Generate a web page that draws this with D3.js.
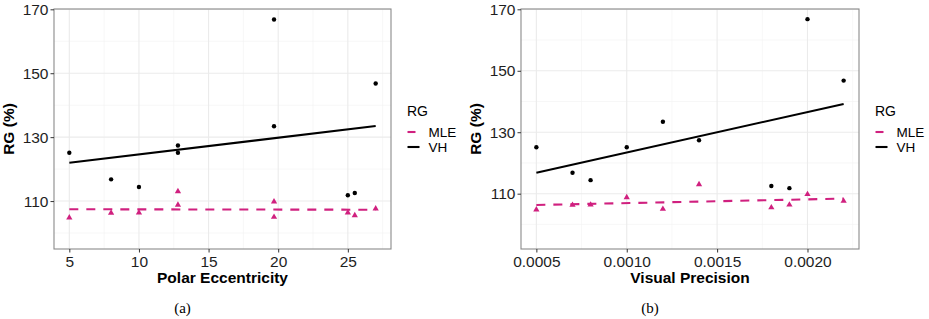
<!DOCTYPE html>
<html>
<head>
<meta charset="utf-8">
<script src="https://cdn.jsdelivr.net/npm/d3@7"></script>
<style>
  body { margin: 0; background: #fff; }
  svg text { font-family: "Liberation Sans", Arial, sans-serif; }
</style>
</head>
<body>
<div id="chart-area"></div>
<script>
// ten subjects, same order in every array
const polarEcc = [5, 8, 10, 12.8, 12.8, 19.7, 19.7, 25, 25.5, 27];
const visualPrec = [0.0005, 0.0007, 0.0008, 0.0014, 0.0010, 0.0020, 0.0012, 0.0019, 0.0018, 0.0022];
const vhRG = [125.1, 116.8, 114.4, 127.4, 125.1, 166.8, 133.4, 111.8, 112.5, 146.8];
const mleRG = [104.8, 106.3, 106.4, 113.0, 108.8, 109.8, 105.0, 106.4, 105.5, 107.6];

const yTicks = [110, 130, 150, 170];
const yMinor = [100, 120, 140, 160];
const peTicks = [5, 10, 15, 20, 25];
const peMinor = [7.5, 12.5, 17.5, 22.5, 27.5];
const vpTicks = [0.0005, 0.0010, 0.0015, 0.0020];
const vpMinor = [0.00075, 0.00125, 0.00175, 0.00225];
const seriesNames = ["MLE", "VH"];

const colors = { MLE: "#d0207f", VH: "#000000" };

const svg = d3.select("#chart-area")
    .append("svg")
    .attr("width", 929)
    .attr("height", 319);

function linFit(xs, ys) {
    const mx = d3.mean(xs), my = d3.mean(ys);
    const sxy = d3.sum(xs, (x, i) => (x - mx) * (ys[i] - my));
    const sxx = d3.sum(xs, x => (x - mx) * (x - mx));
    const b = sxy / sxx;
    return x => my + b * (x - mx);
}

function drawPanel(p) {
    const w = p.right - p.left, h = p.bottom - p.top;
    const g = svg.append("g").attr("transform", `translate(${p.left},${p.top})`);

    const [x0, x1] = d3.extent(p.xs);
    const pad = (x1 - x0) * 0.05;
    const x = d3.scaleLinear().domain([x0 - pad, x1 + pad]).range([0, w]);
    const y = d3.scaleLinear().domain(p.yDomain).range([h, 0]);

    // grid
    g.selectAll(".ymin").data(yMinor).enter().append("line")
        .attr("x1", 0).attr("x2", w)
        .attr("y1", d => y(d)).attr("y2", d => y(d))
        .attr("stroke", "#f2f2f2").attr("stroke-width", 0.6);
    g.selectAll(".xmin").data(p.xMinor).enter().append("line")
        .attr("y1", 0).attr("y2", h)
        .attr("x1", d => x(d)).attr("x2", d => x(d))
        .attr("stroke", "#f2f2f2").attr("stroke-width", 0.6);
    g.selectAll(".ymaj").data(yTicks).enter().append("line")
        .attr("x1", 0).attr("x2", w)
        .attr("y1", d => y(d)).attr("y2", d => y(d))
        .attr("stroke", "#ebebeb").attr("stroke-width", 1.1);
    g.selectAll(".xmaj").data(p.xTicks).enter().append("line")
        .attr("y1", 0).attr("y2", h)
        .attr("x1", d => x(d)).attr("x2", d => x(d))
        .attr("stroke", "#ebebeb").attr("stroke-width", 1.1);

    // points
    g.selectAll(".vh").data(p.xs).enter().append("circle")
        .attr("cx", d => x(d))
        .attr("cy", (d, i) => y(vhRG[i]))
        .attr("r", 2.2)
        .attr("fill", colors.VH);
    g.selectAll(".mle").data(p.xs).enter().append("path")
        .attr("d", d3.symbol(d3.symbolTriangle, 17))
        .attr("transform", (d, i) => `translate(${x(d)},${y(mleRG[i])})`)
        .attr("fill", colors.MLE);

    // regression lines
    const fitMle = linFit(p.xs, mleRG);
    const fitVh = linFit(p.xs, vhRG);
    g.append("line")
        .attr("x1", x(x0)).attr("x2", x(x1))
        .attr("y1", y(fitMle(x0))).attr("y2", y(fitMle(x1)))
        .attr("stroke", colors.MLE).attr("stroke-width", 2.1)
        .attr("stroke-dasharray", "9,8");
    g.append("line")
        .attr("x1", x(x0)).attr("x2", x(x1))
        .attr("y1", y(fitVh(x0))).attr("y2", y(fitVh(x1)))
        .attr("stroke", colors.VH).attr("stroke-width", 2.1);

    // border
    g.append("rect")
        .attr("width", w).attr("height", h)
        .attr("fill", "none").attr("stroke", "#8a8a8a").attr("stroke-width", 1.1);

    // axes
    const xAxis = g.append("g")
        .attr("transform", `translate(0,${h})`)
        .call(d3.axisBottom(x).tickValues(p.xTicks).tickFormat(p.fmt).tickSize(3.5).tickPadding(3));
    const yAxis = g.append("g")
        .call(d3.axisLeft(y).tickValues(yTicks).tickSize(3.5).tickPadding(2));
    [xAxis, yAxis].forEach(a => {
        a.select(".domain").remove();
        a.selectAll(".tick line").attr("stroke", "#333");
        a.selectAll("text")
            .attr("fill", "#1e1e1e")
            .style("font-size", "15.5px")
            .style("font-family", "'Liberation Sans', Arial, sans-serif");
    });

    svg.append("text")
        .attr("x", p.left + w / 2)
        .attr("y", 283)
        .attr("text-anchor", "middle")
        .style("font-size", "15.5px")
        .style("font-weight", "bold")
        .text(p.xTitle);

    svg.append("text")
        .attr("transform", `translate(${p.left - 40},${p.top + h / 2}) rotate(-90)`)
        .attr("text-anchor", "middle")
        .style("font-size", "15.5px")
        .style("font-weight", "bold")
        .text("RG (%)");

    svg.append("text")
        .attr("x", p.left + w / 2 - 40)
        .attr("y", 313)
        .attr("text-anchor", "middle")
        .style("font-family", "'Liberation Serif', 'Times New Roman', serif")
        .style("font-size", "15px")
        .text(p.caption);

    // legend
    const lg = svg.append("g").attr("transform", `translate(${p.right + 16},0)`);
    lg.append("text")
        .attr("x", 0).attr("y", 116)
        .style("font-size", "14px")
        .text("RG");
    seriesNames.forEach((s, i) => {
        const yy = 132 + i * 15;
        lg.append("line")
            .attr("x1", 0.5).attr("x2", 12.5)
            .attr("y1", yy).attr("y2", yy)
            .attr("stroke", colors[s]).attr("stroke-width", 2.1)
            .attr("stroke-dasharray", s === "MLE" ? "8,8" : null);
        lg.append("text")
            .attr("x", 21.5).attr("y", yy + 5)
            .style("font-size", "13.5px")
            .text(s);
    });
}

drawPanel({
    left: 54, right: 391, top: 9, bottom: 249,
    xs: polarEcc, xTicks: peTicks, xMinor: peMinor,
    yDomain: [95, 170.1], fmt: d3.format("d"),
    xTitle: "Polar Eccentricity", caption: "(a)"
});

drawPanel({
    left: 521, right: 859, top: 9, bottom: 249,
    xs: visualPrec, xTicks: vpTicks, xMinor: vpMinor,
    yDomain: [92, 170.1], fmt: d3.format(".4f"),
    xTitle: "Visual Precision", caption: "(b)"
});
</script>
</body>
</html>
